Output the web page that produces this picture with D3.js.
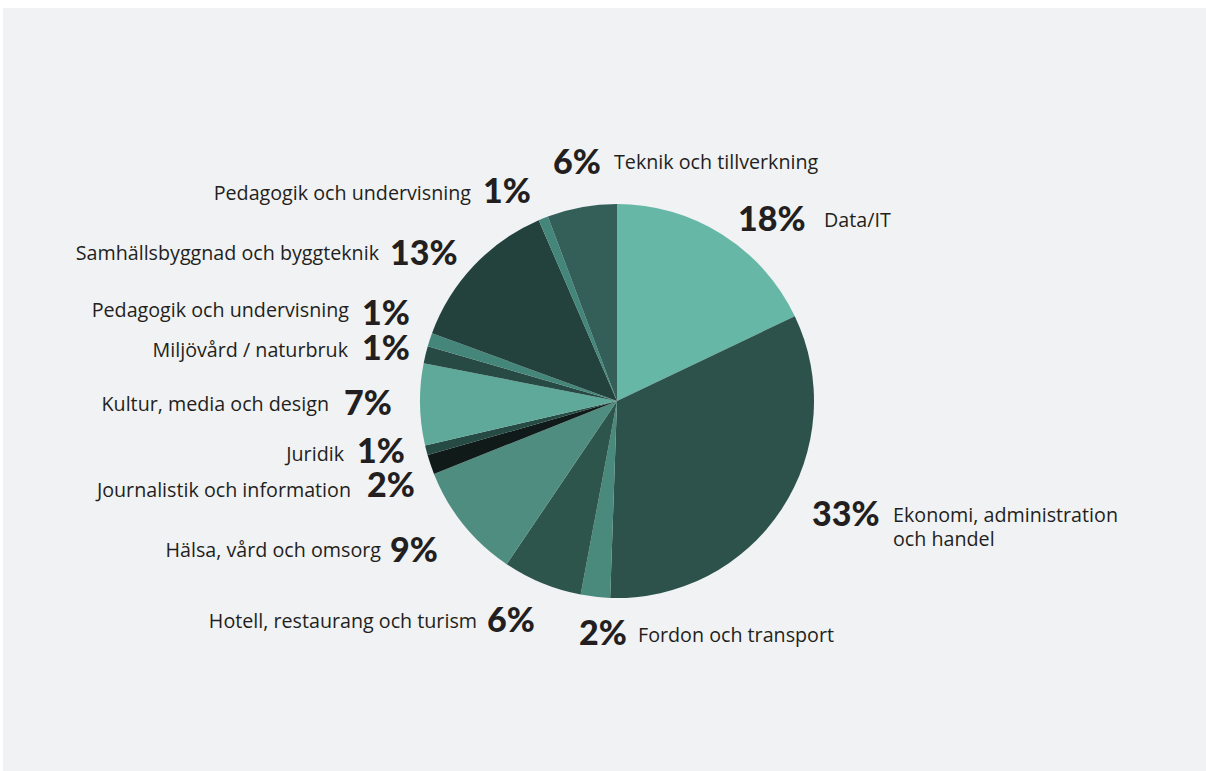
<!DOCTYPE html>
<html>
<head>
<meta charset="utf-8">
<script src="https://cdn.jsdelivr.net/npm/d3@7"></script>
<style>
  html, body { margin: 0; padding: 0; background: #ffffff; }
  svg { display: block; }
</style>
</head>
<body>
<svg id="chart" width="1206" height="771"></svg>
<script>
// ---- data ----
const categories = [
  "Data/IT",
  "Ekonomi, administration|och handel",
  "Fordon och transport",
  "Hotell, restaurang och turism",
  "Hälsa, vård och omsorg",
  "Journalistik och information",
  "Juridik",
  "Kultur, media och design",
  "Miljövård / naturbruk",
  "Pedagogik och undervisning",
  "Samhällsbyggnad och byggteknik",
  "Pedagogik och undervisning",
  "Teknik och tillverkning"
];
const shares = [17.9, 32.6, 2.4, 6.5, 9.5, 1.6, 0.8, 6.7, 1.4, 1.1, 12.9, 0.8, 5.7];
const pctLabels = ["18%", "33%", "2%", "6%", "9%", "2%", "1%", "7%", "1%", "1%", "13%", "1%", "6%"];

// ---- styling / layout ----
const colors = ["#66b7a6", "#2d524b", "#4a8a7d", "#2e554c", "#4f8d80", "#101a19", "#264a44",
                "#5ea999", "#284a44", "#44877a", "#23423d", "#44877a", "#345f59"];
// side: R = percent then name; L = name (right-aligned) then percent
const labelLayout = [
  {side: "R", px: 738, py: 231, nx: 824, ny: 227},
  {side: "R", px: 812, py: 526, nx: 893, ny: 522},
  {side: "R", px: 579, py: 645, nx: 638, ny: 642},
  {side: "L", px: 487, py: 632, nx: 477, ny: 628},
  {side: "L", px: 390, py: 562, nx: 381, ny: 557},
  {side: "L", px: 367, py: 497, nx: 351, ny: 497},
  {side: "L", px: 357, py: 463, nx: 344, ny: 461},
  {side: "L", px: 344, py: 415, nx: 329, ny: 411},
  {side: "L", px: 362, py: 360, nx: 348, ny: 357},
  {side: "L", px: 362, py: 325, nx: 349, ny: 317},
  {side: "L", px: 390, py: 265, nx: 379, ny: 260},
  {side: "L", px: 483, py: 203, nx: 471, ny: 200},
  {side: "R", px: 553, py: 174, nx: 614, ny: 169}
];

const svg = d3.select("#chart");
const W = 1206, H = 771;

svg.append("rect").attr("x", 0).attr("y", 0).attr("width", W).attr("height", H).attr("fill", "#ffffff");
svg.append("rect").attr("x", 3).attr("y", 8).attr("width", W - 3).attr("height", H - 8).attr("fill", "#f1f2f4");

const cx = 617, cy = 401, R = 197;
const pie = d3.pie().sort(null).value(d => d);
const arc = d3.arc().innerRadius(0).outerRadius(R);

const g = svg.append("g").attr("transform", `translate(${cx},${cy})`);
g.selectAll("path")
  .data(pie(shares))
  .join("path")
  .attr("d", arc)
  .attr("fill", (d, i) => colors[i]);

const textColor = "#231f20";
const nameFont = "'Open Sans', 'Noto Sans', sans-serif";
const pctFont = "Lato, 'Open Sans', sans-serif";

const labels = svg.append("g");
categories.forEach((name, i) => {
  const L = labelLayout[i];
  labels.append("text")
    .attr("x", L.px).attr("y", L.py)
    .attr("text-anchor", "start")
    .attr("font-family", pctFont)
    .attr("font-weight", 900)
    .attr("font-size", 34)
    .attr("fill", textColor)
    .text(pctLabels[i]);
  const lines = name.split("|");
  const t = labels.append("text")
    .attr("x", L.nx).attr("y", L.ny)
    .attr("text-anchor", L.side === "L" ? "end" : "start")
    .attr("font-family", nameFont)
    .attr("font-weight", 400)
    .attr("font-size", 19.7)
    .attr("fill", textColor);
  lines.forEach((ln, k) => {
    t.append("tspan").attr("x", L.nx).attr("dy", k === 0 ? 0 : 23.5).text(ln);
  });
});
</script>
</body>
</html>
